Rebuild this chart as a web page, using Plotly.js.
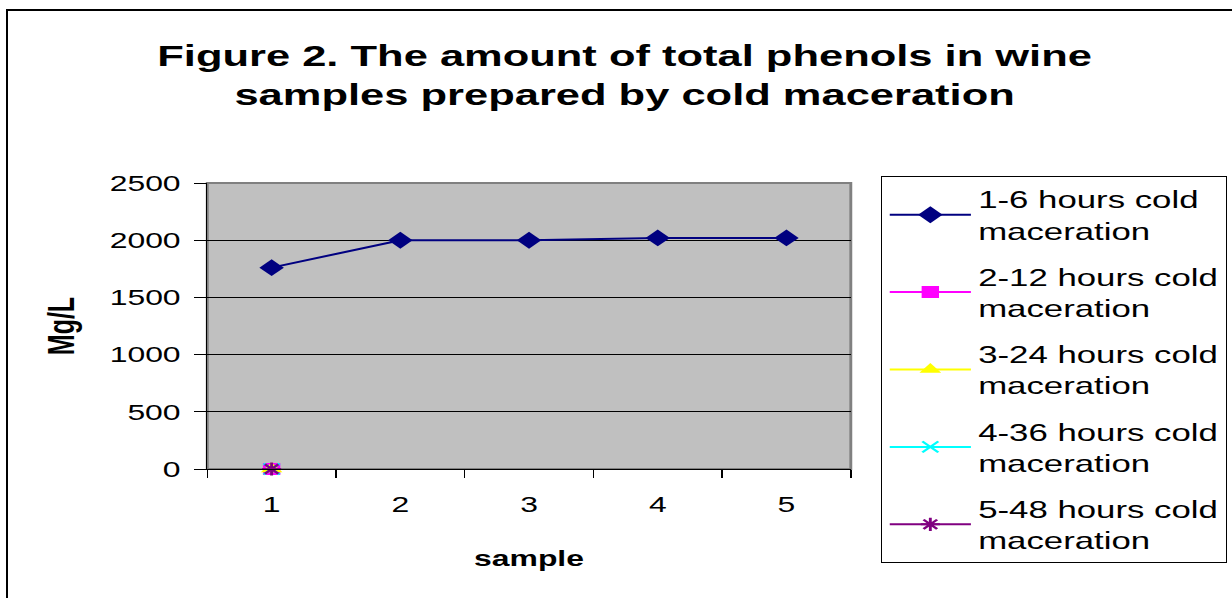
<!DOCTYPE html>
<html>
<head>
<meta charset="utf-8">
<script src="https://cdn.plot.ly/plotly-3.0.1.min.js"></script>
<style>
  html, body { margin: 0; padding: 0; background: #fff; overflow: hidden; }
  #frame { position: absolute; left: 6px; top: 9px; width: 1400px; height: 800px;
           border-left: 2px solid #000; border-top: 2px solid #000; pointer-events: none; z-index: 5; }
  #chart { position: absolute; left: 0; top: 0; width: 850px; height: 598px;
           transform: scaleX(1.44941); transform-origin: 0 0; }
</style>
</head>
<body>
<div id="chart"></div>
<div id="frame"></div>
<script>
// Samples on the category axis
const samples = ["1", "2", "3", "4", "5"];

// Total phenols (Mg/L) per maceration regime
const phenols6h  = [1760, 2000, 2000, 2020, 2020];
const phenols12h = [0];
const phenols24h = [0];
const phenols36h = [0];
const phenols48h = [0];

const seriesNames = [
  "1-6 hours cold<br>maceration",
  "2-12 hours cold<br>maceration",
  "3-24 hours cold<br>maceration",
  "4-36 hours cold<br>maceration",
  "5-48 hours cold<br>maceration"
];

const yTicks = [0, 500, 1000, 1500, 2000, 2500];

const FONT = "Liberation Sans, Arial, sans-serif";

function series(i, y, color, symbol, size, lineWidth) {
  return {
    type: "scatter",
    mode: "lines+markers",
    name: seriesNames[i],
    legendgroup: "g" + i,
    x: samples.slice(0, y.length),
    y: y,
    line: { color: color, width: 2 },
    marker: { color: color, symbol: symbol, size: size, line: { color: color, width: lineWidth } },
    cliponaxis: false
  };
}

const traces = [
  series(0, phenols6h,  "#000080", "diamond", 13, 0),
  series(1, phenols12h, "#FF00FF", "square", 12, 0),
  series(2, phenols24h, "#FFFF00", "triangle-up", 13, 0),
  series(3, phenols36h, "#00FFFF", "x-thin-open", 11, 2),
  series(4, phenols48h, "#800080", "asterisk-open", 11, 2)
];

const layout = {
  width: 850,
  height: 598,
  margin: { l: 143, r: 263, t: 183, b: 129, pad: 0, autoexpand: false },
  paper_bgcolor: "#ffffff",
  plot_bgcolor: "#C0C0C0",
  font: { family: FONT, color: "#000", size: 22 },
  title: {
    text: "<b>Figure 2. The amount of total phenols in wine<br>samples prepared by cold maceration</b>",
    font: { family: FONT, size: 30, color: "#000" },
    xref: "container", x: 0.507, xanchor: "center",
    yref: "container", y: 0.89, yanchor: "top"
  },
  xaxis: {
    type: "category",
    categoryorder: "array",
    categoryarray: samples,
    range: [-0.5, samples.length - 0.5],
    tickson: "boundaries",
    ticks: "outside", ticklen: 8, tickwidth: 1, tickcolor: "#000",
    showgrid: false,
    showline: true, linecolor: "#000", linewidth: 1,
    zeroline: false,
    tickfont: { family: FONT, size: 22 },
    ticklabelstandoff: 16,
    title: { text: "<b>sample</b>", font: { family: FONT, size: 22 }, standoff: 34 },
    fixedrange: true
  },
  yaxis: {
    range: [0, 2500],
    tickvals: yTicks,
    ticks: "outside", ticklen: 8, tickwidth: 1, tickcolor: "#000",
    showgrid: true, gridcolor: "#000", gridwidth: 1,
    showline: true, linecolor: "#000", linewidth: 1,
    zeroline: false,
    tickfont: { family: FONT, size: 22 },
    ticklabelstandoff: 5,
    title: { text: "<b>Mg/L</b>", font: { family: FONT, size: 25 }, standoff: 16 },
    fixedrange: true
  },
  shapes: [{
    type: "rect", xref: "paper", yref: "paper", x0: 0, x1: 1, y0: 0, y1: 1,
    line: { color: "#808080", width: 2 }, layer: "below"
  }],
  legend: {
    x: 1.047, xanchor: "left",
    y: 1.0245, yanchor: "top",
    bgcolor: "#ffffff",
    bordercolor: "#000", borderwidth: 1,
    font: { family: FONT, size: 24, color: "#000" },
    tracegroupgap: 12,
    itemwidth: 56,
    traceorder: "grouped",
    maxheight: 600
  },
  showlegend: true
};

Plotly.newPlot("chart", traces, layout, { staticPlot: true, displayModeBar: false });
</script>
</body>
</html>
